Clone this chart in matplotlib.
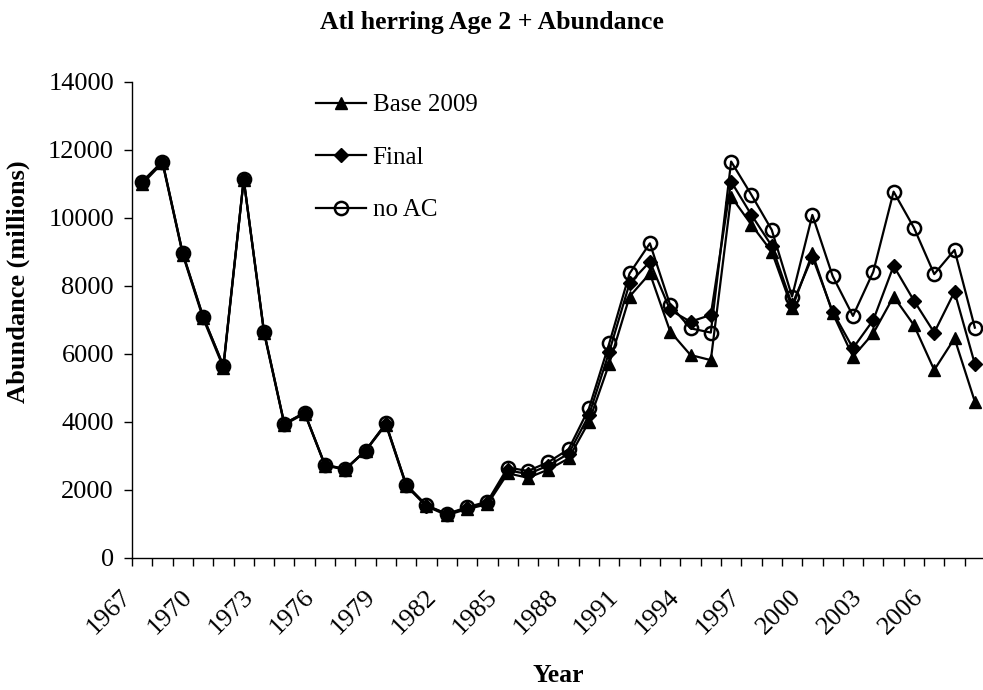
import matplotlib
matplotlib.use('Agg')
import matplotlib.pyplot as plt
from matplotlib.ticker import FixedLocator, NullFormatter
from matplotlib.transforms import ScaledTranslation

plt.rcParams['font.family'] = ['Liberation Serif', 'DejaVu Serif']

years = list(range(1967, 2009))

base_2009 = [11000, 11620, 8920, 7050, 5600, 11120, 6620, 3920, 4250, 2720,
             2600, 3150, 3920, 2120, 1520, 1260, 1440, 1580, 2490, 2360,
             2600, 2930, 4010, 5720, 7690, 8370, 6660, 5970, 5820, 10630,
             9800, 9010, 7350, 8960, 7200, 5920, 6610, 7690, 6850, 5530,
             6460, 4600]
final = [11050, 11660, 8960, 7100, 5650, 11140, 6660, 3950, 4270, 2740,
         2610, 3160, 3950, 2150, 1540, 1290, 1470, 1620, 2580, 2470,
         2720, 3070, 4200, 6070, 8080, 8715, 7290, 6950, 7150, 11070,
         10090, 9180, 7450, 8860, 7245, 6170, 7000, 8590, 7570, 6630,
         7830, 5705]
no_ac = [11070, 11660, 8960, 7100, 5650, 11140, 6660, 3950, 4275, 2740,
         2620, 3160, 3960, 2160, 1550, 1300, 1490, 1660, 2660, 2560,
         2820, 3200, 4400, 6315, 8370, 9255, 7440, 6755, 6630, 11660,
         10680, 9650, 7690, 10090, 8290, 7120, 8420, 10775, 9715, 8350,
         9060, 6775]

W, H = 983, 690
fig = plt.figure(figsize=(W / 100, H / 100), dpi=100)
ax = fig.add_axes([132 / W, (H - 558) / H, 853 / W, 476 / H])

x = list(range(len(years)))
ax.plot(x, base_2009, color='black', linewidth=1.6, marker='^', markersize=9,
        markerfacecolor='black', markeredgecolor='black', label='Base 2009', zorder=3)
ax.plot(x, final, color='black', linewidth=1.6, marker='D', markersize=7.5,
        markerfacecolor='black', markeredgecolor='black', label='Final', zorder=4)
ax.plot(x, no_ac, color='black', linewidth=1.6, marker='o', markersize=9.5,
        markerfacecolor='none', markeredgecolor='black', markeredgewidth=1.8,
        label='no AC', zorder=5)

ax.set_xlim(-0.5, len(years) - 0.5)
ax.set_ylim(0, 14000)
ax.set_yticks(range(0, 14001, 2000))

label_pos = x[::3]
ax.set_xticks(label_pos)
ax.set_xticklabels([str(years[i]) for i in label_pos], rotation=45,
                   ha='right', va='top', rotation_mode='anchor')
ax.xaxis.set_minor_locator(FixedLocator([i - 0.5 for i in range(len(years) + 1)]))
ax.xaxis.set_minor_formatter(NullFormatter())
ax.tick_params(axis='x', which='major', length=0, pad=14, labelsize=19)
ax.tick_params(axis='x', which='minor', length=6, width=1, direction='out')
ax.tick_params(axis='y', length=6, width=1, direction='out', labelsize=19, pad=7)

# shift the rotated year labels a bit left and down, like the original
shift = ScaledTranslation(-22 / 100, -8 / 100, fig.dpi_scale_trans)
for lbl in ax.get_xticklabels():
    lbl.set_transform(lbl.get_transform() + shift)

for side in ['top', 'right']:
    ax.spines[side].set_visible(False)
for side in ['left', 'bottom']:
    ax.spines[side].set_linewidth(1)

ax.legend(loc='upper left', bbox_to_anchor=(0.2045, 0.996), frameon=False,
          fontsize=18, handlelength=2.0, handletextpad=0.25, labelspacing=1.2,
          borderaxespad=0)

fig.text(0.5, 1 - 22 / H, 'Atl herring Age 2 + Abundance', ha='center', va='center',
         fontsize=18.5, fontweight='bold')
fig.text(558 / W, 1 - 676 / H, 'Year', ha='center', va='center',
         fontsize=18.5, fontweight='bold')
fig.text(18 / W, 1 - 282 / H, 'Abundance (millions)', ha='center', va='center',
         rotation=90, fontsize=19, fontweight='bold')

fig.savefig('out.png', dpi=100)
